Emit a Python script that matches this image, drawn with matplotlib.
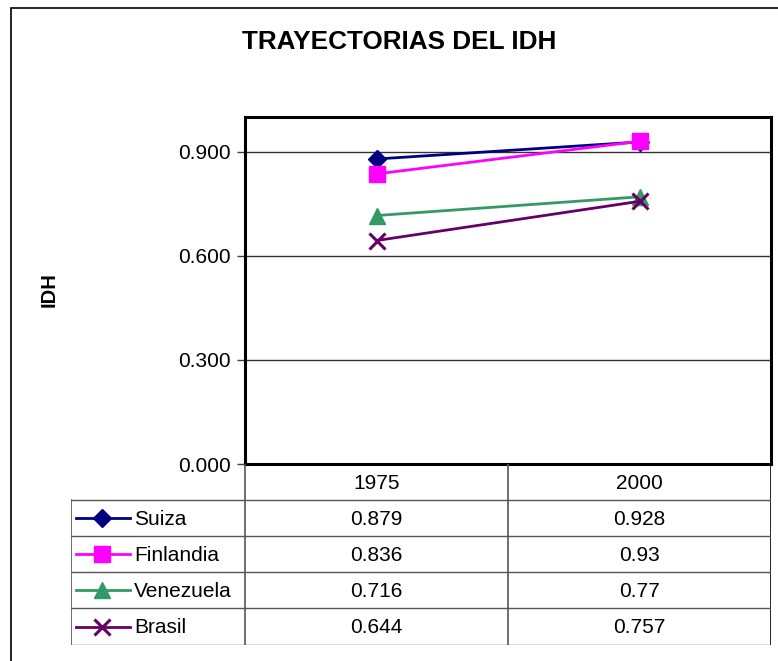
import matplotlib
matplotlib.use("Agg")
import matplotlib.pyplot as plt
from matplotlib.lines import Line2D
from matplotlib.patches import Rectangle

plt.rcParams['font.family'] = ['Liberation Sans', 'DejaVu Sans']

years = ["1975", "2000"]
countries = ["Suiza", "Finlandia", "Venezuela", "Brasil"]
suiza = [0.879, 0.928]
finlandia = [0.836, 0.93]
venezuela = [0.716, 0.77]
brasil = [0.644, 0.757]
series = [suiza, finlandia, venezuela, brasil]
colors = ["#000080", "#FF00FF", "#339966", "#660066"]
markers = ["D", "s", "^", "x"]
msizes = [9, 11, 11, 11]
yticks = [0.0, 0.3, 0.6, 0.9]
FS = 15

W, H = 778, 661
fig = plt.figure(figsize=(W / 100, H / 100), dpi=100)

# outer chart border (cropped on the right and bottom)
fig.patches.append(Rectangle((11 / W, -1), 2, 2 - 7.5 / H, transform=fig.transFigure,
                             fill=False, edgecolor="black", linewidth=1.2))

# plot area
pl, pr, pt, pb = 245, 771, 117, 464
ax = fig.add_axes([pl / W, 1 - pb / H, (pr - pl) / W, (pb - pt) / H])
x = range(len(years))
for vals, c, m, ms in zip(series, colors, markers, msizes):
    mew = 2.2 if m == "x" else 1
    ax.plot(x, vals, color=c, linewidth=2, marker=m, markersize=ms,
            markeredgewidth=mew, markeredgecolor=c, markerfacecolor=c, zorder=3)
ax.set_xlim(-0.5, len(years) - 0.5)
ax.set_ylim(0, 1.0)
ax.set_yticks(yticks)
ax.set_yticklabels([f"{v:.3f}" for v in yticks], fontsize=FS)
ax.set_xticks([])
ax.tick_params(axis="y", direction="out", length=6, width=1, color="#404040", pad=4)
for v in yticks[1:]:
    ax.axhline(v, color="#333333", linewidth=1, zorder=1)
for s in ax.spines.values():
    s.set_linewidth(2.2)
    s.set_color("black")
ax.set_ylabel("IDH", fontsize=14.5, fontweight="bold", labelpad=0)
ax.yaxis.set_label_coords((59 - pl) / (pr - pl), (pb - 290) / (pb - pt))

fig.text(399 / W, 1 - 42 / H, "TRAYECTORIAS DEL IDH", ha="center", va="center",
         fontsize=18.8, fontweight="bold")

# data table below the plot
tl, tb = 71, 645
ta = fig.add_axes([tl / W, 1 - tb / H, (pr - tl) / W, (tb - pb) / H])
ta.set_xlim(tl, pr)
ta.set_ylim(tb, pb)
ta.axis("off")
col_edges = [pl, 508, pr]
row_edges = [464, 500, 536, 572, 608, 645]
gcol = "#555555"
# vertical lines
ta.plot([tl, tl], [row_edges[1], tb], color=gcol, lw=1.2)
for cx in col_edges:
    ta.plot([cx, cx], [pb, tb], color=gcol if cx != pr else "black", lw=1.2)
# horizontal lines
for ry in row_edges[1:]:
    ta.plot([tl, pr], [ry, ry], color=gcol, lw=1)
for j, yr in enumerate(years):
    cx = (col_edges[j] + col_edges[j + 1]) / 2
    ta.text(cx, (row_edges[0] + row_edges[1]) / 2 + 1, yr, ha="center", va="center", fontsize=FS)
for i, (name, vals, c, m, ms) in enumerate(zip(countries, series, colors, markers, msizes)):
    cy = (row_edges[i + 1] + row_edges[i + 2]) / 2
    mew = 2.2 if m == "x" else 1
    ta.add_line(Line2D([76, 130], [cy, cy], color=c, lw=2))
    ta.add_line(Line2D([102], [cy], color=c, marker=m, markersize=ms,
                       markeredgewidth=mew, markeredgecolor=c, markerfacecolor=c))
    ta.text(134, cy + 1, name, ha="left", va="center", fontsize=FS)
    for j, v in enumerate(vals):
        cx = (col_edges[j] + col_edges[j + 1]) / 2
        ta.text(cx, cy + 1, f"{v:g}", ha="center", va="center", fontsize=FS)

fig.savefig("out.png", dpi=100)
